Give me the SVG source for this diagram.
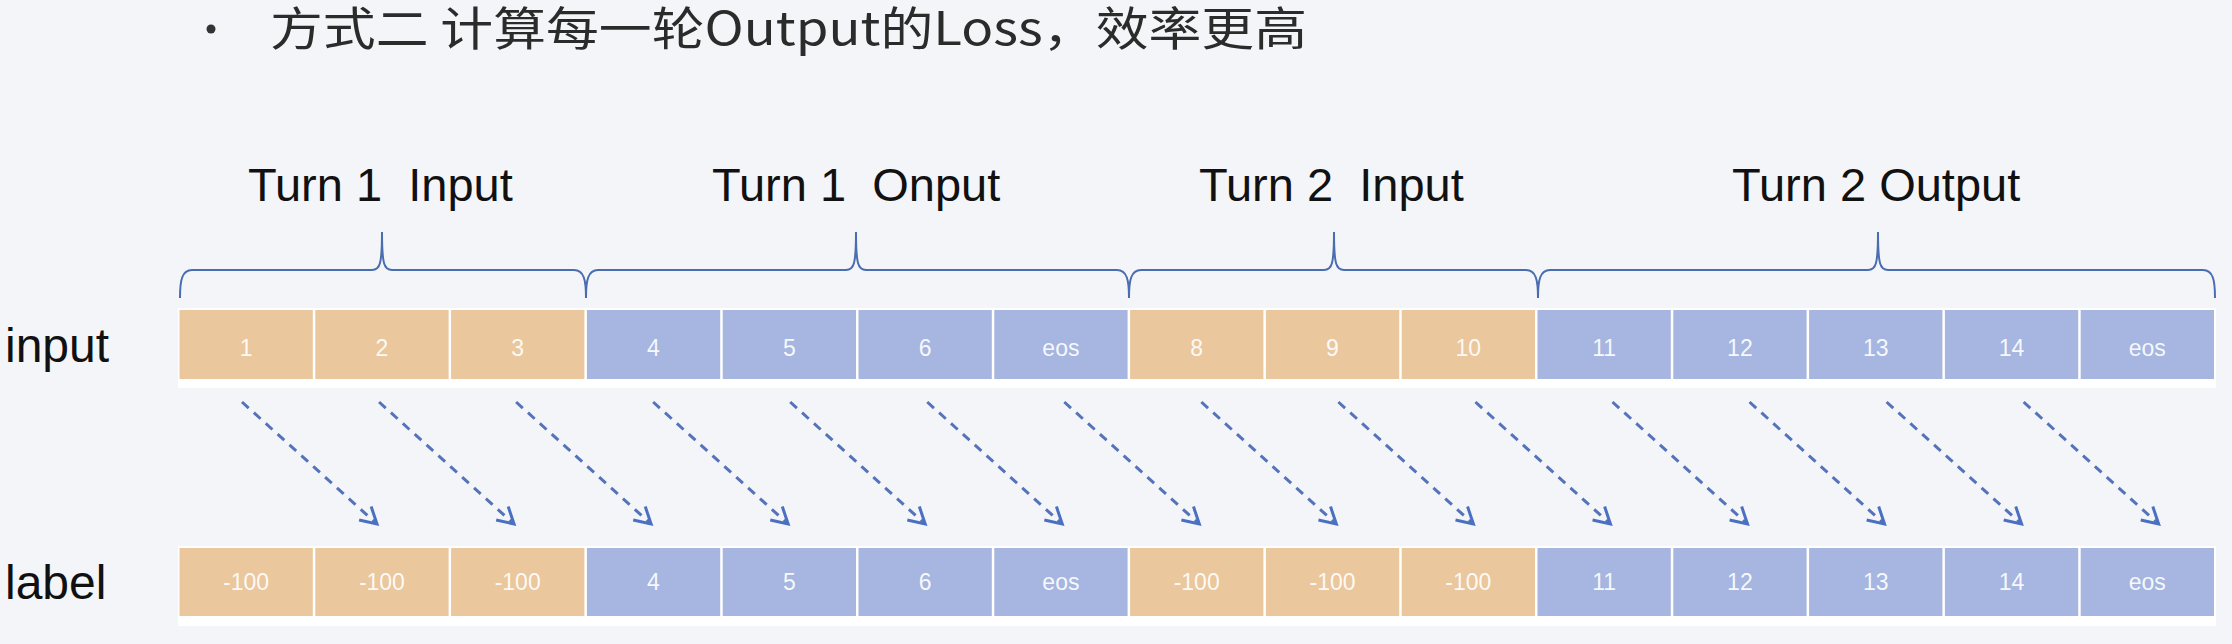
<svg xmlns="http://www.w3.org/2000/svg" width="2232" height="644" viewBox="0 0 2232 644">
  <defs>
    <style>
      .title { font-family: "Noto Sans CJK SC", "Liberation Sans", sans-serif; font-size: 46px; fill: #2b2b2b; }
      .hdr { font-family: "Liberation Sans", Arial, sans-serif; font-size: 47px; fill: #111111; }
      .rowlbl { font-family: "Liberation Sans", Arial, sans-serif; font-size: 48px; fill: #111111; }
      .o { fill: #EAC79D; }
      .b { fill: #A6B6E0; }
      .t { font-family: "Liberation Sans", Arial, sans-serif; font-size: 23px; fill: #ffffff; fill-opacity: 0.92; text-anchor: middle; }
      .brace { fill: none; stroke: #4A6DB0; stroke-width: 2; }
      .arr { fill: none; stroke: #5573BA; stroke-width: 3; stroke-dasharray: 9 7; marker-end: url(#ah); }
    </style>
    <marker id="ah" viewBox="-20 -12 24 24" refX="0" refY="0" markerWidth="24" markerHeight="24" markerUnits="userSpaceOnUse" orient="auto">
      <path d="M-16,-9 L0,0 L-16,9" fill="none" stroke="#4A70C2" stroke-width="3" stroke-dasharray="none"/>
    </marker>
  </defs>

  <rect x="0" y="0" width="2232" height="644" fill="#F4F5F8"/>

  <g id="title">
    <circle cx="211" cy="29" r="4.5" fill="#333333"/>
    <text class="title" x="270" y="45" textLength="1037" lengthAdjust="spacingAndGlyphs">方式二 计算每一轮Output的Loss，效率更高</text>
  </g>

  <g id="headers">
    <text class="hdr" x="248" y="201" xml:space="preserve">Turn 1  Input</text>
    <text class="hdr" x="712" y="201" xml:space="preserve">Turn 1  Onput</text>
    <text class="hdr" x="1199" y="201" xml:space="preserve">Turn 2  Input</text>
    <text class="hdr" x="1732" y="201">Turn 2 Output</text>
  </g>

  <g id="braces">
    <path class="brace" d="M180,298 C180,280 182,270 192,270 L372,270 C380,270 382,264 382,232 C382,264 384,270 392,270 L574,270 C584,270 586,280 586,298"/>
    <path class="brace" d="M586,298 C586,280 588,270 598,270 L846,270 C854,270 856,264 856,232 C856,264 858,270 866,270 L1117,270 C1127,270 1129,280 1129,298"/>
    <path class="brace" d="M1129,298 C1129,280 1131,270 1141,270 L1324,270 C1332,270 1334,264 1334,232 C1334,264 1336,270 1344,270 L1526,270 C1536,270 1538,280 1538,298"/>
    <path class="brace" d="M1538,298 C1538,280 1540,270 1550,270 L1868,270 C1876,270 1878,264 1878,232 C1878,264 1880,270 1888,270 L2203,270 C2213,270 2215,280 2215,298"/>
  </g>

  <g id="row-labels">
    <text class="rowlbl" x="5" y="362">input</text>
    <text class="rowlbl" x="5" y="599">label</text>
  </g>

  <g id="input-row">
    <rect x="178" y="308" width="2038" height="80" fill="#ffffff"/>
    <g id="in-1"><rect class="o" x="179.5" y="310" width="133.3" height="69"/><text class="t" x="246.1" y="356">1</text></g>
    <g id="in-2"><rect class="o" x="315.3" y="310" width="133.3" height="69"/><text class="t" x="381.9" y="356">2</text></g>
    <g id="in-3"><rect class="o" x="451.1" y="310" width="133.3" height="69"/><text class="t" x="517.7" y="356">3</text></g>
    <g id="in-4"><rect class="b" x="586.9" y="310" width="133.3" height="69"/><text class="t" x="653.5" y="356">4</text></g>
    <g id="in-5"><rect class="b" x="722.7" y="310" width="133.3" height="69"/><text class="t" x="789.3" y="356">5</text></g>
    <g id="in-6"><rect class="b" x="858.5" y="310" width="133.3" height="69"/><text class="t" x="925.1" y="356">6</text></g>
    <g id="in-7"><rect class="b" x="994.3" y="310" width="133.3" height="69"/><text class="t" x="1060.9" y="356">eos</text></g>
    <g id="in-8"><rect class="o" x="1130.1" y="310" width="133.3" height="69"/><text class="t" x="1196.7" y="356">8</text></g>
    <g id="in-9"><rect class="o" x="1265.9" y="310" width="133.3" height="69"/><text class="t" x="1332.5" y="356">9</text></g>
    <g id="in-10"><rect class="o" x="1401.7" y="310" width="133.3" height="69"/><text class="t" x="1468.3" y="356">10</text></g>
    <g id="in-11"><rect class="b" x="1537.5" y="310" width="133.3" height="69"/><text class="t" x="1604.1" y="356">11</text></g>
    <g id="in-12"><rect class="b" x="1673.3" y="310" width="133.3" height="69"/><text class="t" x="1739.9" y="356">12</text></g>
    <g id="in-13"><rect class="b" x="1809.1" y="310" width="133.3" height="69"/><text class="t" x="1875.7" y="356">13</text></g>
    <g id="in-14"><rect class="b" x="1944.9" y="310" width="133.3" height="69"/><text class="t" x="2011.5" y="356">14</text></g>
    <g id="in-15"><rect class="b" x="2080.7" y="310" width="133.3" height="69"/><text class="t" x="2147.3" y="356">eos</text></g>
  </g>

  <g id="label-row">
    <rect x="178" y="546" width="2038" height="80" fill="#ffffff"/>
    <g id="lb-1"><rect class="o" x="179.5" y="548" width="133.3" height="68"/><text class="t" x="246.1" y="590">-100</text></g>
    <g id="lb-2"><rect class="o" x="315.3" y="548" width="133.3" height="68"/><text class="t" x="381.9" y="590">-100</text></g>
    <g id="lb-3"><rect class="o" x="451.1" y="548" width="133.3" height="68"/><text class="t" x="517.7" y="590">-100</text></g>
    <g id="lb-4"><rect class="b" x="586.9" y="548" width="133.3" height="68"/><text class="t" x="653.5" y="590">4</text></g>
    <g id="lb-5"><rect class="b" x="722.7" y="548" width="133.3" height="68"/><text class="t" x="789.3" y="590">5</text></g>
    <g id="lb-6"><rect class="b" x="858.5" y="548" width="133.3" height="68"/><text class="t" x="925.1" y="590">6</text></g>
    <g id="lb-7"><rect class="b" x="994.3" y="548" width="133.3" height="68"/><text class="t" x="1060.9" y="590">eos</text></g>
    <g id="lb-8"><rect class="o" x="1130.1" y="548" width="133.3" height="68"/><text class="t" x="1196.7" y="590">-100</text></g>
    <g id="lb-9"><rect class="o" x="1265.9" y="548" width="133.3" height="68"/><text class="t" x="1332.5" y="590">-100</text></g>
    <g id="lb-10"><rect class="o" x="1401.7" y="548" width="133.3" height="68"/><text class="t" x="1468.3" y="590">-100</text></g>
    <g id="lb-11"><rect class="b" x="1537.5" y="548" width="133.3" height="68"/><text class="t" x="1604.1" y="590">11</text></g>
    <g id="lb-12"><rect class="b" x="1673.3" y="548" width="133.3" height="68"/><text class="t" x="1739.9" y="590">12</text></g>
    <g id="lb-13"><rect class="b" x="1809.1" y="548" width="133.3" height="68"/><text class="t" x="1875.7" y="590">13</text></g>
    <g id="lb-14"><rect class="b" x="1944.9" y="548" width="133.3" height="68"/><text class="t" x="2011.5" y="590">14</text></g>
    <g id="lb-15"><rect class="b" x="2080.7" y="548" width="133.3" height="68"/><text class="t" x="2147.3" y="590">eos</text></g>
  </g>

  <g id="connectors">
    <line class="arr" x1="242" y1="402" x2="377" y2="524"/>
    <line class="arr" x1="379.05" y1="402" x2="514.05" y2="524"/>
    <line class="arr" x1="516.1" y1="402" x2="651.1" y2="524"/>
    <line class="arr" x1="653.15" y1="402" x2="788.15" y2="524"/>
    <line class="arr" x1="790.2" y1="402" x2="925.2" y2="524"/>
    <line class="arr" x1="927.25" y1="402" x2="1062.25" y2="524"/>
    <line class="arr" x1="1064.3" y1="402" x2="1199.3" y2="524"/>
    <line class="arr" x1="1201.35" y1="402" x2="1336.35" y2="524"/>
    <line class="arr" x1="1338.4" y1="402" x2="1473.4" y2="524"/>
    <line class="arr" x1="1475.45" y1="402" x2="1610.45" y2="524"/>
    <line class="arr" x1="1612.5" y1="402" x2="1747.5" y2="524"/>
    <line class="arr" x1="1749.55" y1="402" x2="1884.55" y2="524"/>
    <line class="arr" x1="1886.6" y1="402" x2="2021.6" y2="524"/>
    <line class="arr" x1="2023.65" y1="402" x2="2158.65" y2="524"/>
  </g>
</svg>
